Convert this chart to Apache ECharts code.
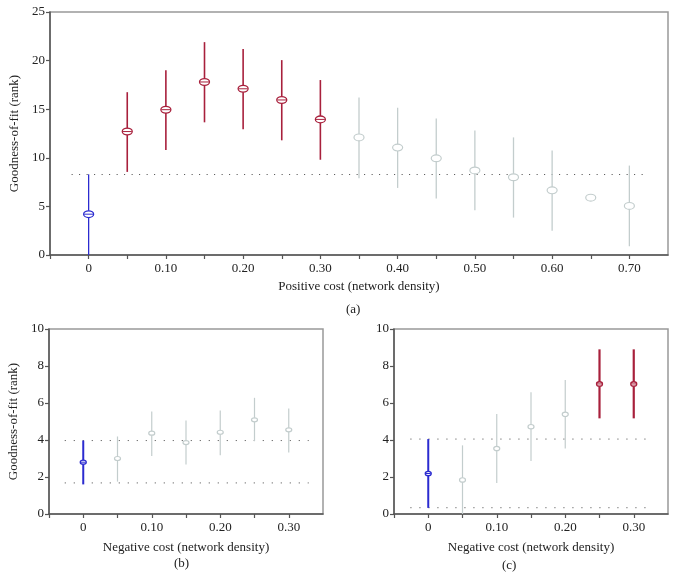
<!DOCTYPE html>
<html>
<head>
<meta charset="utf-8">
<script src="https://cdn.jsdelivr.net/npm/echarts@6/dist/echarts.min.js"></script>
<style>
html,body{margin:0;padding:0;background:#fff;}
#c{width:677px;height:584px;}
</style>
</head>
<body>
<div id="c"></div>
<script>
// ---- Data ----
// group: 0 = blue (reference), 1 = red (significant), 2 = gray (not significant)
var aCost  = [0, 0.05, 0.10, 0.15, 0.20, 0.25, 0.30, 0.35, 0.40, 0.45, 0.50, 0.55, 0.60, 0.65, 0.70];
var aMean  = [4.2, 12.7, 14.95, 17.8, 17.1, 15.95, 13.95, 12.1, 11.05, 9.95, 8.7, 8.0, 6.65, 5.9, 5.05];
var aLow   = [0, 8.55, 10.8, 13.65, 12.95, 11.8, 9.8, 7.9, 6.9, 5.8, 4.6, 3.85, 2.5, 5.9, 0.9];
var aHigh  = [8.3, 16.75, 19.0, 21.9, 21.2, 20.05, 18.0, 16.2, 15.15, 14.05, 12.8, 12.1, 10.75, 5.9, 9.2];
var aGroup = [0, 1, 1, 1, 1, 1, 1, 2, 2, 2, 2, 2, 2, 2, 2];
var aRefLine = [8.28];

var bCost  = [0, 0.05, 0.10, 0.15, 0.20, 0.25, 0.30];
var bMean  = [2.8, 3.0, 4.37, 3.86, 4.42, 5.09, 4.55];
var bLow   = [1.6, 1.75, 3.14, 2.67, 3.18, 3.94, 3.32];
var bHigh  = [3.97, 4.19, 5.54, 5.05, 5.6, 6.28, 5.7];
var bGroup = [0, 2, 2, 2, 2, 2, 2];
var bRefLines = [3.97, 1.68];

var cCost  = [0, 0.05, 0.10, 0.15, 0.20, 0.25, 0.30];
var cMean  = [2.19, 1.84, 3.54, 4.72, 5.39, 7.03, 7.03];
var cLow   = [0.33, 0, 1.68, 2.86, 3.54, 5.17, 5.17];
var cHigh  = [4.05, 3.71, 5.41, 6.58, 7.25, 8.9, 8.9];
var cGroup = [0, 2, 2, 2, 2, 1, 1];
var cRefLines = [4.05, 0.34];

var yTitle = 'Goodness-of-fit (rank)';
var aXTitle = 'Positive cost (network density)';
var bXTitle = 'Negative cost (network density)';
var cXTitle = 'Negative cost (network density)';
var panelLabels = ['(a)', '(b)', '(c)'];

// ---- Styling ----
var COLORS = ['#2b2bd0', '#a8203c', '#c3cdcd'];
var FONT = 'Liberation Serif';

function rows(cost, mean, low, high, group) {
  return cost.map(function (x, i) { return [x, mean[i], low[i], high[i], group[i]]; });
}

function makeRender(rx, ry, widths) {
  return function (params, api) {
    var x = api.value(0), m = api.value(1), lo = api.value(2), hi = api.value(3), g = api.value(4);
    var pLo = api.coord([x, lo]), pHi = api.coord([x, hi]), pM = api.coord([x, m]);
    var col = COLORS[g];
    var lw = widths[g];
    var children = [];
    if (hi > lo) {
      children.push({ type: 'line', shape: { x1: pLo[0], y1: pLo[1], x2: pHi[0], y2: pHi[1] },
        style: { stroke: col, lineWidth: lw } });
    }
    children.push({ type: 'ellipse', shape: { cx: pM[0], cy: pM[1], rx: rx, ry: ry },
      style: { fill: '#fff', stroke: col, lineWidth: g === 2 ? 1.2 : 1.3 } });
    if (g !== 2) {
      children.push({ type: 'line', shape: { x1: pM[0] - rx + 0.5, y1: pM[1], x2: pM[0] + rx - 0.5, y2: pM[1] },
        style: { stroke: col, lineWidth: 1 } });
    }
    return { type: 'group', children: children };
  };
}

function xLabel(v) {
  var k = Math.round(v * 100);
  if (k < 0) return '';
  if (k === 0) return '0';
  if (k % 10 !== 0) return '';
  return (k / 100).toFixed(2);
}

function xAxis(idx, max, title, nameGap) {
  return {
    type: 'value', gridIndex: idx, min: -0.05, max: max, interval: 0.05,
    name: title, nameLocation: 'middle', nameGap: nameGap,
    nameTextStyle: { fontFamily: FONT, fontSize: 13, color: '#222' },
    axisLine: { show: true, onZero: false, lineStyle: { color: '#555', width: 1.5 } },
    axisTick: { show: true, length: 4, inside: false, lineStyle: { color: '#555', width: 1.2 } },
    axisLabel: { formatter: xLabel, fontFamily: FONT, fontSize: 13, color: '#222', margin: 7, showMaxLabel: false },
    splitLine: { show: false }
  };
}

function yAxis(idx, max, interval, title) {
  return {
    type: 'value', gridIndex: idx, min: 0, max: max, interval: interval,
    name: title, nameLocation: 'middle', nameGap: 29, nameRotate: 90,
    nameTextStyle: { fontFamily: FONT, fontSize: 13, color: '#222' },
    axisLine: { show: true, onZero: false, lineStyle: { color: '#555', width: 1.5 } },
    axisTick: { show: true, length: 4, inside: false, lineStyle: { color: '#555', width: 1.2 } },
    axisLabel: { fontFamily: FONT, fontSize: 13, color: '#222', margin: 5 },
    splitLine: { show: false }
  };
}

function refSeries(idx, values, x0, x1, gap) {
  return values.map(function (v) {
    return {
      type: 'line', xAxisIndex: idx, yAxisIndex: idx, data: [[x0, v], [x1, v]],
      symbol: 'none', silent: true, z: 1,
      lineStyle: { color: '#444', width: 1, type: [1, gap] }
    };
  });
}

var series = [];
series = series.concat(refSeries(0, aRefLine, -0.022, 0.72, 6.5));
series = series.concat(refSeries(1, bRefLines, -0.027, 0.329, 8));
series = series.concat(refSeries(2, cRefLines, -0.026, 0.319, 8));
series.push({ type: 'custom', xAxisIndex: 0, yAxisIndex: 0, z: 3,
  data: rows(aCost, aMean, aLow, aHigh, aGroup), encode: { x: 0, y: [1, 2, 3] },
  renderItem: makeRender(5, 3.4, [1.3, 1.6, 1.3]) });
series.push({ type: 'custom', xAxisIndex: 1, yAxisIndex: 1, z: 3,
  data: rows(bCost, bMean, bLow, bHigh, bGroup), encode: { x: 0, y: [1, 2, 3] },
  renderItem: makeRender(3, 2, [2, 2, 1.2]) });
series.push({ type: 'custom', xAxisIndex: 2, yAxisIndex: 2, z: 3,
  data: rows(cCost, cMean, cLow, cHigh, cGroup), encode: { x: 0, y: [1, 2, 3] },
  renderItem: makeRender(3, 2.2, [2, 2.2, 1.2]) });

var gridStyle = { show: true, borderColor: '#999', borderWidth: 1.5, backgroundColor: 'transparent' };
var option = {
  backgroundColor: '#fff',
  animation: false,
  grid: [
    Object.assign({ left: 50, top: 12, right: 9, bottom: 329 }, gridStyle),
    Object.assign({ left: 49, top: 329, right: 354, bottom: 70 }, gridStyle),
    Object.assign({ left: 394, top: 329, right: 9, bottom: 70 }, gridStyle)
  ],
  xAxis: [ xAxis(0, 0.75, aXTitle, 25), xAxis(1, 0.35, bXTitle, 27), xAxis(2, 0.35, cXTitle, 27) ],
  yAxis: [ yAxis(0, 25, 5, yTitle), yAxis(1, 10, 2, yTitle),
    Object.assign(yAxis(2, 10, 2, ''), { name: '' }) ],
  graphic: [
    { type: 'text', left: 346, top: 303, style: { text: panelLabels[0], fontFamily: FONT, fontSize: 13, fill: '#222' } },
    { type: 'text', left: 174, top: 557, style: { text: panelLabels[1], fontFamily: FONT, fontSize: 13, fill: '#222' } },
    { type: 'text', left: 502, top: 559, style: { text: panelLabels[2], fontFamily: FONT, fontSize: 13, fill: '#222' } }
  ],
  series: series
};
var chart = echarts.init(document.getElementById('c'), null, { renderer: 'canvas' });
chart.setOption(option);
</script>
</body>
</html>
